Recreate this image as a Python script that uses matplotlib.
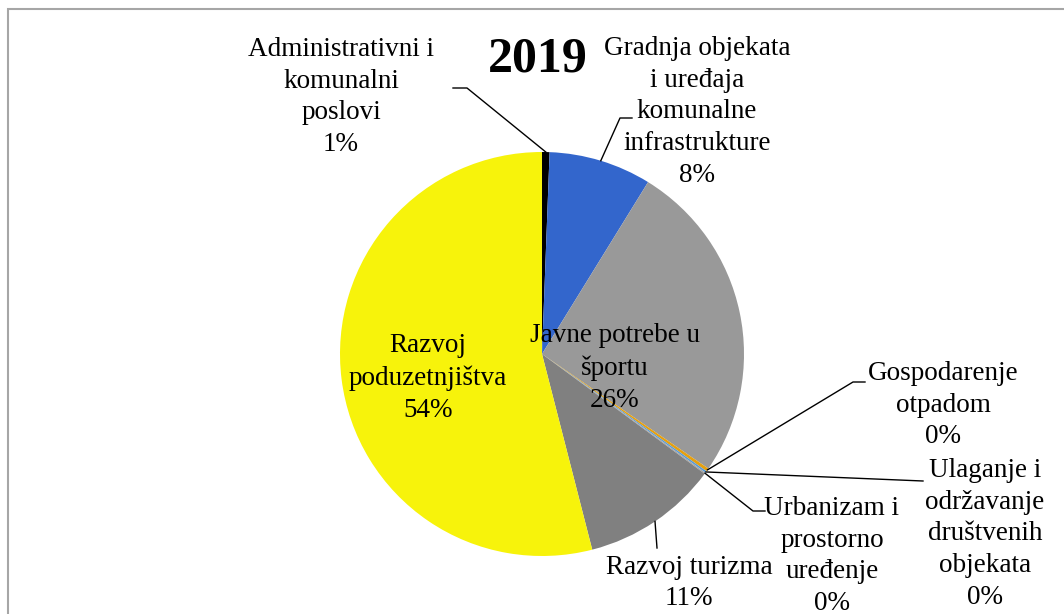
import matplotlib
matplotlib.use("Agg")
import matplotlib.pyplot as plt
import numpy as np
from matplotlib.patches import Rectangle

# ---- data ----
categories = [
    "Administrativni i\nkomunalni\nposlovi",
    "Gradnja objekata\ni uređaja\nkomunalne\ninfrastrukture",
    "Javne potrebe u\nšportu",
    "Gospodarenje\notpadom",
    "Ulaganje i\nodržavanje\ndruštvenih\nobjekata",
    "Urbanizam i\nprostorno\nuređenje",
    "Razvoj turizma",
    "Razvoj\npoduzetnjištva",
]
values = [0.6, 8.2, 25.8, 0.25, 0.15, 0.1, 10.9, 54.0]
colors = ["#000000", "#3366CC", "#999999", "#E6A00F", "#5B9BD5", "#A5A5A5",
          "#808080", "#F7F30B"]
title = "2019"

W, H = 1064, 614
fig = plt.figure(figsize=(W / 100, H / 100), dpi=100)
ax = fig.add_axes([0, 0, 1, 1])

def P(x, y):
    return (x, H - y)

cx, cy = P(542, 354)
R = 202
wedges, _ = ax.pie(values, colors=colors, startangle=90, counterclock=False,
                   center=(cx, cy), radius=R, frame=True,
                   wedgeprops=dict(linewidth=0))
ax.set_xlim(0, W)
ax.set_ylim(0, H)
ax.set_aspect("equal")
ax.axis("off")

# frame
ax.add_patch(Rectangle(P(8, 700), 1200, 700 - 9, fill=False,
                       edgecolor="#A6A6A6", linewidth=1.5, zorder=0))

font = dict(family="Liberation Serif", fontsize=19.5, color="black",
            ha="center", va="center", linespacing=1.36)

pcts = [f"{int(round(v))}%" for v in values]

# label positions (pixel coordinates of text block centre)
label_pos = [
    (341, 97),
    (697, 112),
    (615, 368),
    (943, 405),
    (985, 534),
    (832, 556),
    (689, 583),
    (428, 378),
]
for cat, pct, (lx, ly) in zip(categories, pcts, label_pos):
    ax.text(*P(lx, ly), f"{cat}\n{pct}", **font)

ax.text(*P(538, 60), title, family="Liberation Serif", fontsize=36,
        fontweight="bold", ha="center", va="center")

# leader lines: anchor on wedge edge to label
def edge_point(i, frac=1.0):
    w = wedges[i]
    ang = np.deg2rad((w.theta1 + w.theta2) / 2)
    return (cx + frac * R * np.cos(ang), cy + frac * R * np.sin(ang))

leaders = {
    0: [(467, 88), (453, 88)],
    1: [(620, 118), (632, 118)],
    3: [(853, 382), (865, 382)],
    4: [(923, 481)],
    5: [(753, 511), (765, 511)],
    6: [(657, 548)],
}
for i, pts in leaders.items():
    x0, y0 = edge_point(i)
    xs = [x0] + [P(*p)[0] for p in pts]
    ys = [y0] + [P(*p)[1] for p in pts]
    ax.plot(xs, ys, color="black", linewidth=1.0, zorder=5)

fig.savefig("out.png", dpi=100, facecolor="white")
